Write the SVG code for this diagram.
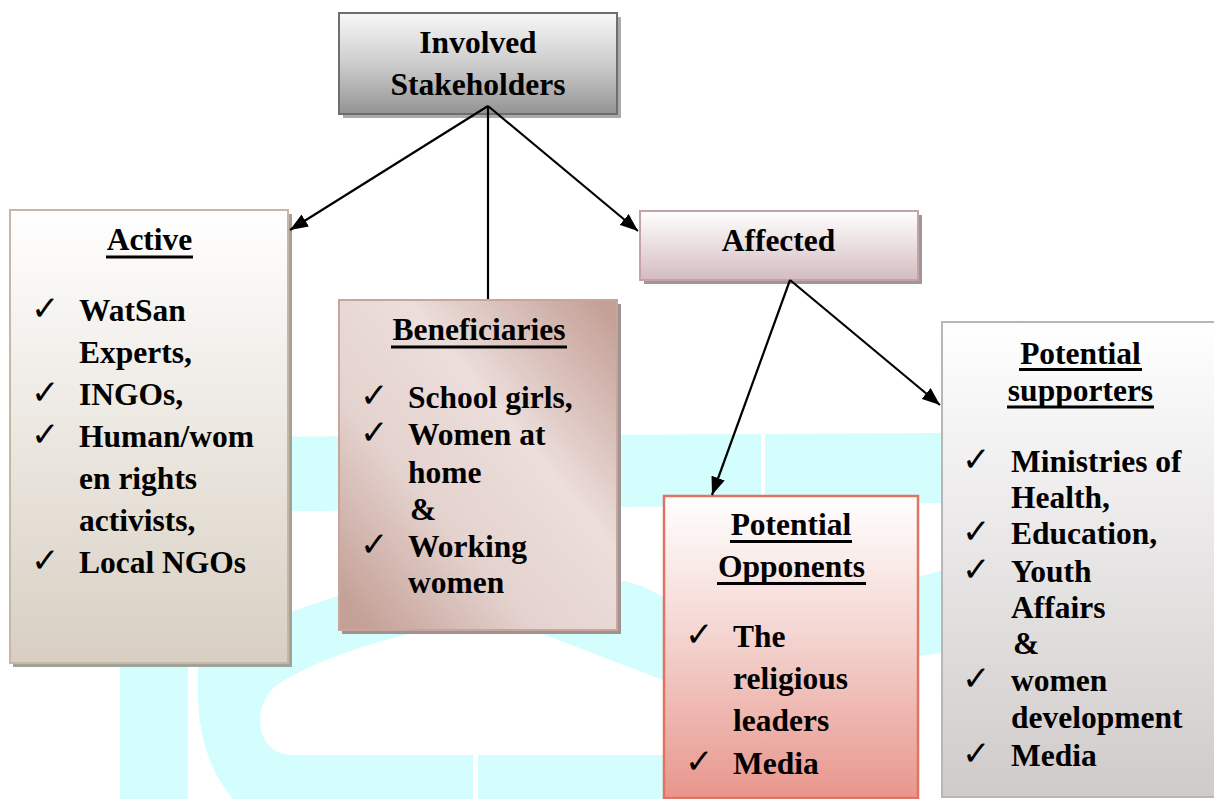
<svg xmlns="http://www.w3.org/2000/svg" width="1214" height="799" viewBox="0 0 1214 799">
<defs>
<style>
.t{font-family:"Liberation Serif","Times New Roman",serif;font-weight:bold;font-size:31.5px;fill:#000}
.c{text-anchor:middle}
.ck{font-family:"DejaVu Sans",sans-serif;font-size:34px;fill:#000}
.ul{stroke:#000;stroke-width:3}
.ln{stroke:#000;stroke-width:2.2;fill:none}
.wm{fill:#d4fdfd}
.wh{fill:#fff}
</style>
<linearGradient id="gInv" x1="0" y1="0" x2="0" y2="1"><stop offset="0" stop-color="#f8f8f8"/><stop offset="0.55" stop-color="#c8c8c8"/><stop offset="1" stop-color="#939393"/></linearGradient>
<linearGradient id="gAct" x1="0" y1="0" x2="0" y2="1"><stop offset="0" stop-color="#fff"/><stop offset="1" stop-color="#d8cfc2"/></linearGradient>
<linearGradient id="gBen" x1="0" y1="1" x2="1" y2="0"><stop offset="0.05" stop-color="#c4a096"/><stop offset="0.35" stop-color="#e4d2ce"/><stop offset="0.62" stop-color="#ecdedb"/><stop offset="0.97" stop-color="#c4a096"/></linearGradient>
<linearGradient id="gAff" x1="0" y1="0" x2="0" y2="1"><stop offset="0" stop-color="#fff"/><stop offset="1" stop-color="#d4bcc0"/></linearGradient>
<linearGradient id="gOpp" x1="0" y1="0" x2="0" y2="1"><stop offset="0" stop-color="#fff"/><stop offset="0.45" stop-color="#f4d6d2"/><stop offset="1" stop-color="#e8968c"/></linearGradient>
<linearGradient id="gSup" x1="0" y1="0" x2="0" y2="1"><stop offset="0" stop-color="#fff"/><stop offset="1" stop-color="#d0cbcb"/></linearGradient>
<marker id="ah" markerUnits="userSpaceOnUse" viewBox="0 0 18 14" refX="18" refY="7" markerWidth="18" markerHeight="14" orient="auto"><path d="M0,0 L18,7 L0,14 Z" fill="#000"/></marker>
</defs>
<rect width="1214" height="799" fill="#fff"/>
<g id="watermark">
<rect class="wm" x="120" y="437" width="68" height="362"/>
<path class="wm" d="M198 437 L945 433 L945 799 L233 799 Q200 760 198 700 Z"/>
<path class="wh" d="M230 512 L950 503 L950 568 Q800 612 663 597 Q640 583 618 580 Q450 568 337 596 L291 612 L230 630 Z"/>
<path class="wh" d="M290 755 L860 755 L880 799 L950 799 L950 652 Q800 672 663 680 L540 633 L413 633 Q340 650 290 677 Q262 690 260 718 Q260 752 290 755 Z"/>
<rect class="wh" x="473" y="755" width="5" height="44"/>
<rect class="wh" x="761" y="433" width="4" height="72"/>
</g>
<g id="involved">
<rect x="343" y="17" width="278" height="101" fill="#aaa"/>
<rect x="339" y="13" width="278" height="101" fill="url(#gInv)" stroke="#6e6e6e" stroke-width="2"/>
<text class="t c" x="478" y="53">Involved</text>
<text class="t c" x="478" y="95">Stakeholders</text>
</g>
<g id="active">
<rect x="13" y="214" width="279" height="453" fill="#9fa39b"/>
<rect x="10" y="210" width="278" height="453" fill="url(#gAct)" stroke="#c5b9a5" stroke-width="2"/>
<text class="t c" x="149.5" y="250">Active</text>
<line class="ul" x1="106" y1="257" x2="193" y2="257"/>
<text class="ck" x="31" y="320">✓</text><text class="t" x="79" y="321">WatSan</text>
<text class="t" x="79" y="363">Experts,</text>
<text class="ck" x="31" y="404">✓</text><text class="t" x="79" y="405">INGOs,</text>
<text class="ck" x="31" y="446">✓</text><text class="t" x="79" y="447">Human/wom</text>
<text class="t" x="79" y="489">en rights</text>
<text class="t" x="79" y="531">activists,</text>
<text class="ck" x="31" y="572">✓</text><text class="t" x="79" y="573">Local NGOs</text>
</g>
<g id="beneficiaries">
<rect x="342" y="304" width="279" height="330" fill="#a09292"/>
<rect x="339" y="300" width="278" height="330" fill="url(#gBen)" stroke="#c8a69c" stroke-width="2"/>
<text class="t c" x="479" y="340">Beneficiaries</text>
<line class="ul" x1="391" y1="347" x2="567" y2="347"/>
<text class="ck" x="360" y="407">✓</text><text class="t" x="408" y="408">School girls,</text>
<text class="ck" x="360" y="444">✓</text><text class="t" x="408" y="445">Women at</text>
<text class="t" x="408" y="483">home</text>
<text class="t" x="410" y="520">&amp;</text>
<text class="ck" x="360" y="556">✓</text><text class="t" x="408" y="557">Working</text>
<text class="t" x="408" y="593">women</text>
</g>
<g id="affected">
<rect x="644" y="215" width="278" height="69" fill="#a09696"/>
<rect x="640" y="211" width="278" height="69" fill="url(#gAff)" stroke="#c4a2a6" stroke-width="2"/>
<text class="t c" x="778.5" y="251">Affected</text>
</g>
<g id="opponents">
<rect x="664" y="496" width="254" height="302" fill="url(#gOpp)" stroke="#e07462" stroke-width="2.5"/>
<text class="t c" x="791" y="535">Potential</text>
<line class="ul" x1="730" y1="541.5" x2="852" y2="541.5"/>
<text class="t c" x="791.5" y="577">Opponents</text>
<line class="ul" x1="717" y1="583.5" x2="866" y2="583.5"/>
<text class="ck" x="685" y="646">✓</text><text class="t" x="733" y="647">The</text>
<text class="t" x="733" y="689">religious</text>
<text class="t" x="733" y="731">leaders</text>
<text class="ck" x="685" y="773">✓</text><text class="t" x="733" y="774">Media</text>
</g>
<g id="supporters">
<rect x="942" y="322" width="280" height="475" fill="url(#gSup)" stroke="#bab6b6" stroke-width="2"/>
<text class="t c" x="1080.5" y="364">Potential</text>
<line class="ul" x1="1019" y1="369.5" x2="1142" y2="369.5"/>
<text class="t c" x="1080.5" y="401">supporters</text>
<line class="ul" x1="1007" y1="407" x2="1154" y2="407"/>
<text class="ck" x="962" y="471">✓</text><text class="t" x="1011" y="472">Ministries of</text>
<text class="t" x="1011" y="508">Health,</text>
<text class="ck" x="962" y="543">✓</text><text class="t" x="1011" y="544">Education,</text>
<text class="ck" x="962" y="581">✓</text><text class="t" x="1011" y="582">Youth</text>
<text class="t" x="1011" y="618">Affairs</text>
<text class="t" x="1013" y="654">&amp;</text>
<text class="ck" x="962" y="690">✓</text><text class="t" x="1011" y="691">women</text>
<text class="t" x="1011" y="728">development</text>
<text class="ck" x="962" y="765">✓</text><text class="t" x="1011" y="766">Media</text>
</g>
<g id="connectors">
<line class="ln" x1="488" y1="106" x2="290" y2="230" marker-end="url(#ah)"/>
<line class="ln" x1="488" y1="106" x2="638" y2="231" marker-end="url(#ah)"/>
<line class="ln" x1="488" y1="106" x2="488" y2="299"/>
<line class="ln" x1="790" y1="280" x2="712" y2="495" marker-end="url(#ah)"/>
<line class="ln" x1="790" y1="280" x2="940" y2="405" marker-end="url(#ah)"/>
</g>
</svg>
